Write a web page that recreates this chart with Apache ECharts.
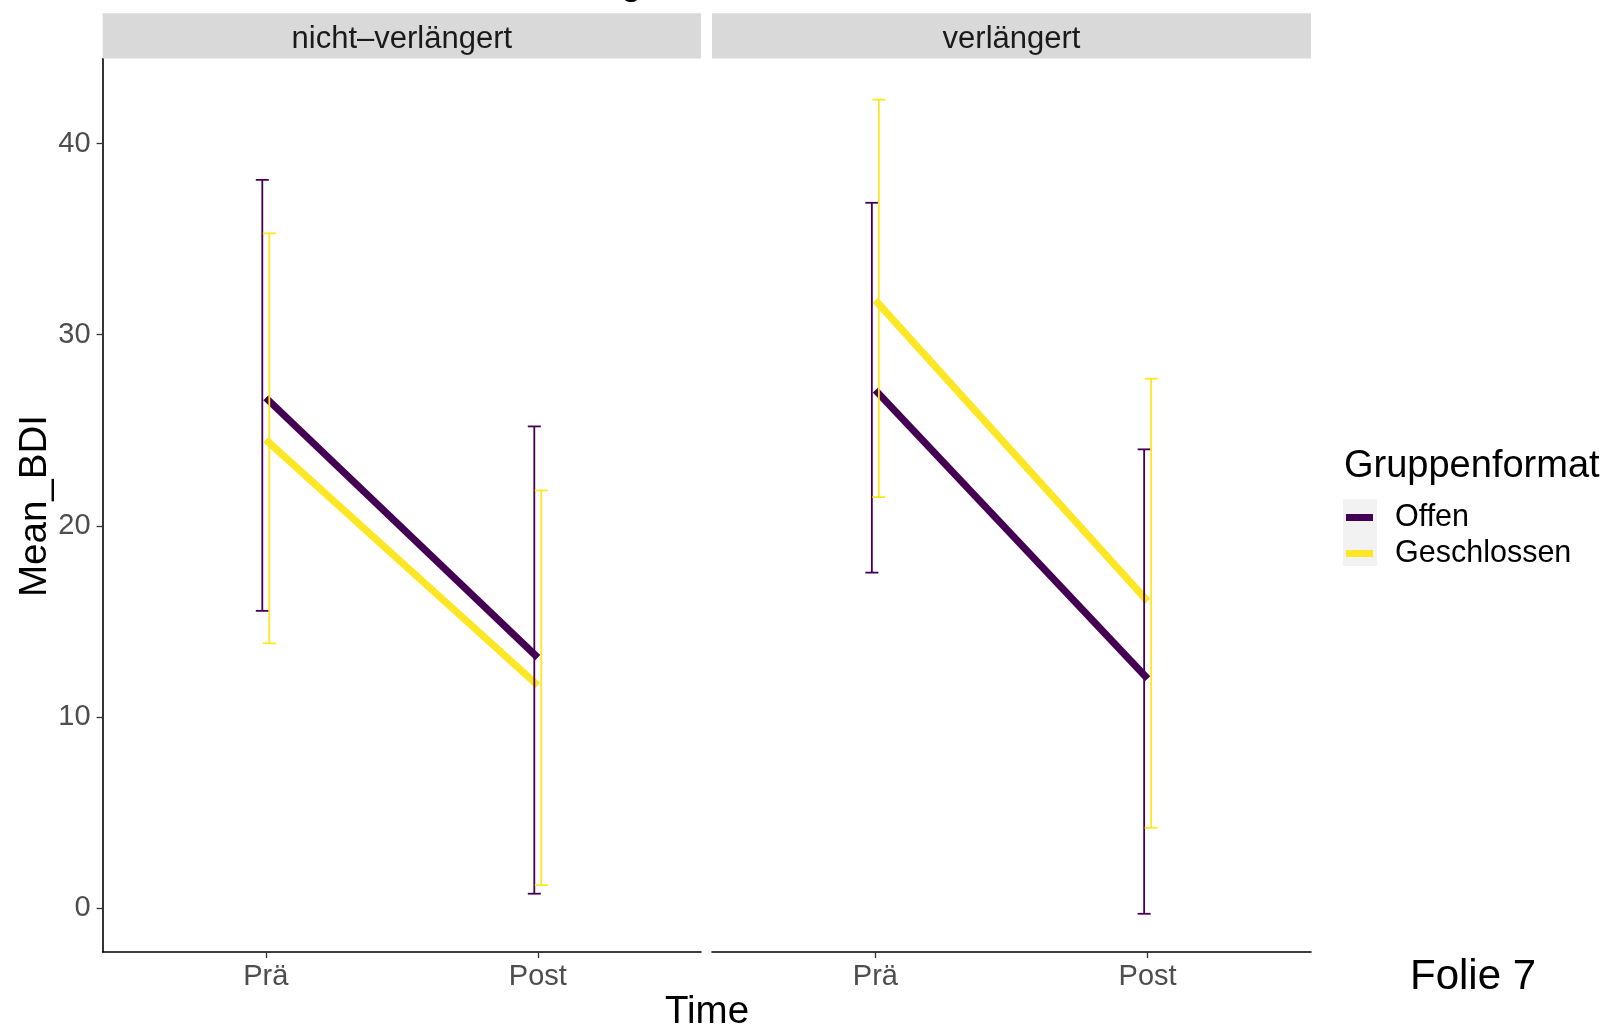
<!DOCTYPE html>
<html>
<head>
<meta charset="utf-8">
<script src="https://cdn.jsdelivr.net/npm/echarts@6/dist/echarts.min.js"></script>
<style>
html,body{margin:0;padding:0;background:#fff;}
#chart{width:1609px;height:1026px;}
</style>
</head>
<body>
<div id="chart"></div>
<script>
// ---- data ----
const categories = ['Prä', 'Post'];
const panels = ['nicht–verlängert', 'verlängert'];
const groups = ['Offen', 'Geschlossen'];
const yTicks = [0, 10, 20, 30, 40];

const nvOffenMean = [26.7, 13.1];
const nvOffenLow = [15.55, 0.75];
const nvOffenHigh = [38.1, 25.2];
const nvGeschlMean = [24.5, 11.65];
const nvGeschlLow = [13.85, 1.2];
const nvGeschlHigh = [35.3, 21.85];

const vOffenMean = [27.1, 12.0];
const vOffenLow = [17.55, -0.3];
const vOffenHigh = [36.9, 24.0];
const vGeschlMean = [31.8, 16.05];
const vGeschlLow = [21.5, 4.2];
const vGeschlHigh = [42.3, 27.7];

// ---- styles ----
const FONT = '"Liberation Sans", Arial, Helvetica, sans-serif';
const colors = {Offen: '#440154', Geschlossen: '#FDE725'};
const dodgePx = {Offen: -3.5, Geschlossen: 3.5};
const yMin = -2.3, yMax = 44.45;
const xMin = 0.4, xMax = 2.6;

const panelData = [
  {Offen: [nvOffenMean, nvOffenLow, nvOffenHigh], Geschlossen: [nvGeschlMean, nvGeschlLow, nvGeschlHigh]},
  {Offen: [vOffenMean, vOffenLow, vOffenHigh], Geschlossen: [vGeschlMean, vGeschlLow, vGeschlHigh]}
];

const grids = [
  {left: 102.6, top: 58.5, width: 598.4, height: 893.5},
  {left: 712, top: 58.5, width: 599, height: 893.5}
];

const xTickVals = categories.map((c, i) => i + 1);

const xAxes = grids.map((g, gi) => ({
  type: 'value', gridIndex: gi, min: xMin, max: xMax,
  axisLine: {show: true, onZero: false, lineStyle: {color: '#000', width: 1.6}},
  axisTick: {show: true, customValues: xTickVals, length: 6, lineStyle: {color: '#333', width: 1.3}},
  axisLabel: {show: true, customValues: xTickVals, margin: 10,
    formatter: v => categories[Math.round(v) - 1] || '',
    color: '#4D4D4D', fontSize: 29, fontFamily: FONT},
  splitLine: {show: false}
}));

const yAxes = grids.map((g, gi) => ({
  type: 'value', gridIndex: gi, min: yMin, max: yMax,
  show: gi === 0,
  axisLine: {show: true, onZero: false, lineStyle: {color: '#000', width: 1.6}},
  axisTick: {show: true, customValues: yTicks, length: 6, lineStyle: {color: '#333', width: 1.3}},
  axisLabel: {show: true, customValues: yTicks, margin: 12, padding: [3, 0, 0, 0],
    color: '#4D4D4D', fontSize: 29, fontFamily: FONT},
  splitLine: {show: false}
}));

function errRenderer(dx, color) {
  return function (params, api) {
    const x = api.value(0), lo = api.value(1), hi = api.value(2);
    const pLo = api.coord([x, lo]);
    const pHi = api.coord([x, hi]);
    const cx = pLo[0] + dx;
    const half = 6.5;
    const st = {stroke: color, lineWidth: 1.8};
    return {
      type: 'group',
      children: [
        {type: 'line', shape: {x1: cx, y1: pLo[1], x2: cx, y2: pHi[1]}, style: st},
        {type: 'line', shape: {x1: cx - half, y1: pHi[1], x2: cx + half, y2: pHi[1]}, style: st},
        {type: 'line', shape: {x1: cx - half, y1: pLo[1], x2: cx + half, y2: pLo[1]}, style: st}
      ]
    };
  };
}

const series = [];
panelData.forEach((pd, pi) => {
  groups.forEach(gname => {
    const [mean] = pd[gname];
    series.push({
      name: gname, type: 'line', xAxisIndex: pi, yAxisIndex: pi,
      data: mean.map((m, i) => [i + 1, m]),
      showSymbol: false, symbol: 'none',
      color: colors[gname],
      lineStyle: {color: colors[gname], width: 7.2, cap: 'butt'},
      z: 2, animation: false
    });
  });
});
panelData.forEach((pd, pi) => {
  groups.forEach(gname => {
    const [, low, high] = pd[gname];
    series.push({
      name: gname + ' SD', type: 'custom', xAxisIndex: pi, yAxisIndex: pi,
      data: low.map((l, i) => [i + 1, l, high[i]]),
      renderItem: errRenderer(dodgePx[gname], colors[gname]),
      z: 3, animation: false, clip: false
    });
  });
});

const graphic = [];
// facet strips
grids.forEach((g, gi) => {
  graphic.push({type: 'rect', shape: {x: g.left, y: 13.3, width: g.width, height: 45.2},
    style: {fill: '#D9D9D9'}, silent: true, z: 1});
  graphic.push({type: 'text', x: g.left + g.width / 2, y: 39,
    style: {text: panels[gi], font: '31px ' + FONT, fill: '#1A1A1A', align: 'center', verticalAlign: 'middle'}, z: 2});
});
// cut-off title (only the descender shows)
graphic.push({type: 'text', x: 641, y: -14,
  style: {text: 'Veränderung', font: 'bold 32px ' + FONT, fill: '#000', align: 'right', verticalAlign: 'middle'}});
// axis titles
graphic.push({type: 'text', x: 707, y: 1012,
  style: {text: 'Time', font: '38.5px ' + FONT, fill: '#000', align: 'center', verticalAlign: 'middle'}});
graphic.push({type: 'text', x: 35, y: 506, rotation: Math.PI / 2,
  style: {text: 'Mean_BDI', font: '38.5px ' + FONT, fill: '#000', align: 'center', verticalAlign: 'middle'}});
// legend title & key bg
graphic.push({type: 'text', x: 1344, y: 467,
  style: {text: 'Gruppenformat', font: '38px ' + FONT, fill: '#000', align: 'left', verticalAlign: 'middle'}});
graphic.push({type: 'rect', shape: {x: 1343, y: 499, width: 34, height: 67},
  style: {fill: '#F2F2F2'}, z: 0, silent: true});
// slide label
graphic.push({type: 'text', x: 1410, y: 977,
  style: {text: 'Folie 7', font: '42px ' + FONT, fill: '#000', align: 'left', verticalAlign: 'middle'}});

const option = {
  backgroundColor: '#fff',
  animation: false,
  grid: grids,
  xAxis: xAxes,
  yAxis: yAxes,
  legend: {
    orient: 'vertical', left: 1346, top: 502, padding: 0, itemGap: 5,
    itemWidth: 27, itemHeight: 7, icon: 'rect', selectedMode: false,
    data: groups,
    textStyle: {fontSize: 30.5, lineHeight: 28, color: '#000', fontFamily: FONT, padding: [0, 0, 0, 17]}
  },
  graphic: graphic,
  series: series
};

const chart = echarts.init(document.getElementById('chart'), null, {renderer: 'canvas'});
chart.setOption(option);
</script>
</body>
</html>
